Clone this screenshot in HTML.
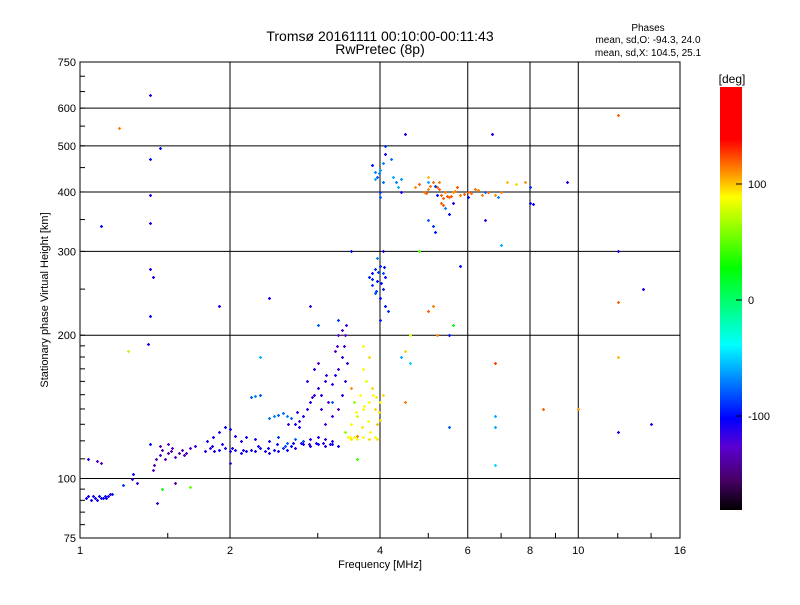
<!DOCTYPE html>
<html><head><meta charset="utf-8"><style>
body{margin:0;background:#fff;}
svg text{font-family:"Liberation Sans",sans-serif;fill:#000;}
</style></head><body>
<svg id="chart" width="800" height="600" xmlns="http://www.w3.org/2000/svg">
<rect width="800" height="600" fill="#fff"/>
<text x="380" y="41" font-size="14" text-anchor="middle">Tromsø 20161111 00:10:00-00:11:43</text>
<text x="380" y="54" font-size="14" text-anchor="middle">RwPretec (8p)</text>
<text x="648" y="31" font-size="10" text-anchor="middle">Phases</text>
<text x="648" y="43" font-size="10" text-anchor="middle">mean, sd,O: -94.3, 24.0</text>
<text x="648" y="56" font-size="10" text-anchor="middle">mean, sd,X: 104.5, 25.1</text>
<text transform="translate(48,300) rotate(-90)" font-size="11" text-anchor="middle">Stationary phase Virtual Height [km]</text>
<text x="380" y="568" font-size="11" text-anchor="middle">Frequency [MHz]</text>
<g id="grid"></g>
<g id="points"></g>
<rect x="80" y="62" width="600" height="476" fill="none" stroke="#000" stroke-width="1"/>
<g id="axes"></g>
<defs><linearGradient id="cg" x1="0" y1="1" x2="0" y2="0">
<stop offset="0" stop-color="#000"/><stop offset="0.07" stop-color="#460064"/><stop offset="0.15" stop-color="#5a00d2"/>
<stop offset="0.217" stop-color="#0000ff"/><stop offset="0.39" stop-color="#00ffff"/><stop offset="0.572" stop-color="#00ff00"/>
<stop offset="0.74" stop-color="#ffff00"/><stop offset="0.80" stop-color="#ff8c00"/><stop offset="0.875" stop-color="#ff0000"/><stop offset="1" stop-color="#ff0000"/></linearGradient></defs>
<rect x="720" y="87" width="22" height="423" fill="url(#cg)"/>
<text x="732" y="83" font-size="12" text-anchor="middle">[deg]</text>
<g id="cbticks"></g>
</svg>
<script>
const xTicks=[1,2,4,6,8,10,16];
const xGrid=[2,4,6,8,10];
const yTicks=[75,100,200,300,400,500,600,750];
const yGrid=[100,200,300,400,500,600];
const cbTicks=[100,0,-100];
const freqs=[1.03,1.05,1.07,1.08,1.10,1.12,1.14,1.16,1.04,1.09,1.13,1.04,1.08,1.10,1.27,1.28,1.22,1.30,
1.40,1.41,1.42,1.45,1.48,1.50,1.52,1.55,1.58,1.60,1.63,1.66,1.70,1.45,1.50,1.38,1.43,1.46,1.55,
1.78,1.82,1.86,1.90,1.95,2.0,2.05,2.1,2.15,2.2,2.25,2.3,2.35,2.4,2.45,2.5,2.55,2.6,2.65,2.7,2.8,2.9,3.0,3.1,3.2,3.3,
1.8,1.85,1.9,1.95,2.0,2.05,2.1,2.15,2.25,2.4,2.5,2.6,2.7,2.8,2.9,3.0,3.1,3.2,
2.4,2.45,2.5,2.55,2.6,2.65,2.2,2.25,2.3,
2.7,2.75,2.8,2.85,2.9,2.95,3.0,3.05,3.1,3.15,3.2,3.25,3.3,3.35,3.38,3.4,3.42,3.3,3.2,3.1,3.35,3.4,2.95,3.0,2.85,3.25,3.3,3.2,2.75,3.05,
3.45,3.5,3.55,3.6,3.7,3.8,3.9,3.95,3.5,3.6,3.7,3.8,3.9,4.0,4.05,3.65,3.75,3.85,3.95,4.0,3.55,3.7,3.8,3.6,3.4,3.5,
3.8,3.85,3.9,3.95,4.0,4.05,4.1,3.85,3.95,4.0,4.05,3.9,4.1,4.15,4.0,4.05,
3.9,3.95,4.0,4.05,3.9,4.0,4.0,4.05,4.1,4.2,3.85,4.3,4.35,4.4,4.4,4.5,4.1,4.25,
4.7,4.8,4.9,5.0,5.1,5.2,5.3,5.4,5.5,5.6,5.7,5.8,6.0,6.2,6.4,6.6,6.8,7.0,7.2,7.5,5.3,5.35,5.0,5.2,5.6,5.0,5.1,5.15,5.4,5.5,6.0,6.5,8.0,8.1,7.8,6.9,
1.38,1.45,1.38,1.38,1.38,1.38,1.40,1.38,1.37,1.10,1.20,1.25,1.9,2.4,2.9,3.0,3.3,4.5,4.6,5.0,5.2,5.5,5.6,6.8,6.8,6.8,6.8,6.7,9.5,8.5,12,12,12,12,12,13.5,14,10,5.5,4.8,5.8,5.1,7.0,6.5,1.66,2.0,3.5,2.3,4.4,4.6,3.6,3.7,5.0,8.0,4.5,
1.06,1.11,1.15,1.46,1.53,1.62,1.84,1.93,2.02,2.12,2.28,2.38,2.48,2.58,2.68,2.78,2.88,2.98,3.08,3.18,2.62,2.72,2.92,3.12,3.28,3.36,3.44,3.48,3.58,3.68,3.78,3.88,3.98,3.72,3.82,3.92,3.86,3.96,4.02,3.92,4.08,3.98,4.95,5.05,5.25,5.45,5.65,5.9,6.1,6.3,5.15,5.35,5.25,5.55];
const heights=[91,90,91,90,91,92,92,93,92,92,91,110,109,108,100,102,97,98,
104,107,110,112,110,113,114,111,113,115,113,116,117,117,118,118,89,95,98,
114,116,114,115,116,114,115,113,114,115,114,116,114,113,115,114,116,115,117,116,118,117,118,117,118,117,
120,122,125,128,127,123,120,122,121,120,122,119,121,120,121,122,121,120,
134,135,136,137,135,134,148,149,150,
130,132,135,140,145,150,155,150,160,145,158,165,170,180,190,200,210,140,135,130,150,160,170,175,160,185,200,145,128,140,
122,121,122,121,122,121,122,121,130,135,140,145,140,145,150,150,160,155,130,133,145,170,180,123,125,155,
265,270,275,260,280,270,265,255,290,240,250,245,230,225,215,300,
440,430,445,420,425,400,390,460,480,470,455,420,410,425,400,530,500,430,
410,415,400,405,420,410,395,400,390,400,410,395,400,405,395,400,395,400,420,415,380,375,430,395,380,350,340,330,370,360,390,400,380,378,420,390,
640,495,470,395,345,275,265,220,192,340,545,185,230,240,230,210,215,185,200,225,200,200,210,175,135,128,107,530,420,140,580,300,235,180,125,250,130,140,128,300,280,230,310,350,96,108,300,180,180,175,110,190,420,410,145,
92,91,93,115,116,112,117,118,116,115,117,116,118,117,119,119,118,119,119,118,130,138,148,165,190,205,175,122,138,128,132,150,138,142,125,148,262,272,258,248,278,438,398,412,406,392,402,396,398,404,412,388,420,392];
const phases=[-105,-110,-100,-110,-115,-100,-110,-95,-110,-105,-110,-110,-130,-130,-120,-100,-90,-120,
-130,-140,-135,-130,-135,-140,-135,-130,-140,-135,-130,-130,-120,-140,-125,-100,-120,30,-140,
-110,-115,-110,-105,-110,-110,-115,-110,-105,-110,-110,-100,-110,-110,-105,-110,-90,-100,-105,-110,-110,-105,-110,-110,-100,-110,
-110,-105,-110,-105,-110,-110,-115,-105,-110,-110,-90,-80,-80,-85,-110,-110,-115,-110,
-75,-70,-80,-75,-70,-80,-80,-70,-80,
-110,-120,-110,-115,-110,-120,-115,-110,-120,-125,-115,-110,-120,-115,-120,-125,-120,-130,-120,-125,-110,-120,-110,-130,-120,-130,-125,-80,-110,-120,
88,92,85,88,88,95,88,92,88,75,88,88,95,88,95,88,82,95,100,95,60,88,95,112,60,108,
-95,-100,-90,-100,-95,-85,-100,-90,-70,-100,-95,-80,-100,-90,-95,-110,
-70,-80,-65,-75,-60,-90,-80,-70,-110,-75,-100,-70,-60,-65,-110,-110,-90,-60,
108,118,112,110,115,118,118,112,115,108,120,112,118,115,112,118,108,112,100,95,118,120,100,-100,-110,-80,-90,-100,-70,-100,-100,-80,-110,-100,108,-70,
-110,-100,-100,-110,-110,-110,-110,-100,-110,-100,112,70,-110,-110,-120,-80,-90,95,82,118,112,-100,20,125,-60,-60,-50,-110,-110,118,118,-110,118,100,-110,-110,-110,108,-80,40,-100,112,-60,-120,50,-120,-100,-60,-60,-50,40,88,-60,-90,112,
-110,-105,-110,-135,-130,-135,-110,-110,-105,-110,-110,-105,-110,-85,-110,-110,-120,-110,-115,-110,-120,-115,-125,-120,-130,-125,-120,88,88,92,88,85,95,88,88,92,-95,-90,-100,-90,-100,-70,118,115,118,120,112,118,115,112,-90,118,112,118];

const NS='http://www.w3.org/2000/svg';
function xs(f){return 80+150*Math.log2(f);}
function ys(h){return 538-476*Math.log10(h/75);}
const stops=[[0,[0,0,0]],[0.07,[70,0,100]],[0.15,[90,0,210]],[0.217,[0,0,255]],[0.39,[0,255,255]],[0.572,[0,255,0]],[0.74,[255,255,0]],[0.80,[255,140,0]],[0.875,[255,0,0]],[1,[255,0,0]]];
function color(v){let t=Math.max(0,Math.min(1,(v+182)/364));
 for(let i=1;i<stops.length;i++){if(t<=stops[i][0]){const a=stops[i-1],b=stops[i];const u=(t-a[0])/(b[0]-a[0]);
 const c=a[1].map((x,k)=>Math.round(x+(b[1][k]-x)*u));return 'rgb('+c.join(',')+')';}}return 'rgb(255,0,0)';}
function mk(tag,attrs,parent){const e=document.createElementNS(NS,tag);for(const k in attrs)e.setAttribute(k,attrs[k]);parent.appendChild(e);return e;}
const grid=document.getElementById('grid'),axes=document.getElementById('axes'),pts=document.getElementById('points'),cbt=document.getElementById('cbticks');
xGrid.forEach(f=>{const l=mk('line',{x1:xs(f),x2:xs(f),y1:62,y2:538,stroke:'#000','stroke-width':1},grid);

});
yGrid.forEach(h=>{const l=mk('line',{x1:80,x2:680,y1:ys(h),y2:ys(h),stroke:'#000','stroke-width':1},grid);

});
xTicks.forEach(f=>{const t=mk('text',{x:xs(f),y:554,'font-size':11,'text-anchor':'middle'},axes);t.textContent=f;

});
yTicks.forEach(h=>{const t=mk('text',{x:76,y:ys(h)+4,'font-size':11,'text-anchor':'end'},axes);t.textContent=h;

});
for(let h=80;h<=700;h+=(h<100?5:(h<200?10:50))){const l=mk('line',{x1:80,x2:85,y1:ys(h),y2:ys(h),stroke:'#000'},axes);

}
[1.5,3,5,7,9,12,14].forEach(f=>{const l=mk('line',{x1:xs(f),x2:xs(f),y1:533,y2:538,stroke:'#000'},axes);

});
for(let i=0;i<freqs.length;i++){const x=Math.round(xs(freqs[i])),y=Math.round(ys(heights[i]));const c=color(phases[i]);
 const p=mk('path',{d:`M${x-1} ${y+0.5}H${x+2}M${x+0.5} ${y-1}V${y+2}`,stroke:c,'stroke-width':1.3,fill:'none'},pts);
 
 }
cbTicks.forEach(v=>{const y=300-1.16*v;
 const l=mk('line',{x1:736,x2:742,y1:y,y2:y,stroke:'#000'},cbt);
 
 
 const t=mk('text',{x:748,y:y+4,'font-size':11},cbt);t.textContent=v;
 
 });
</script>
</body></html>
